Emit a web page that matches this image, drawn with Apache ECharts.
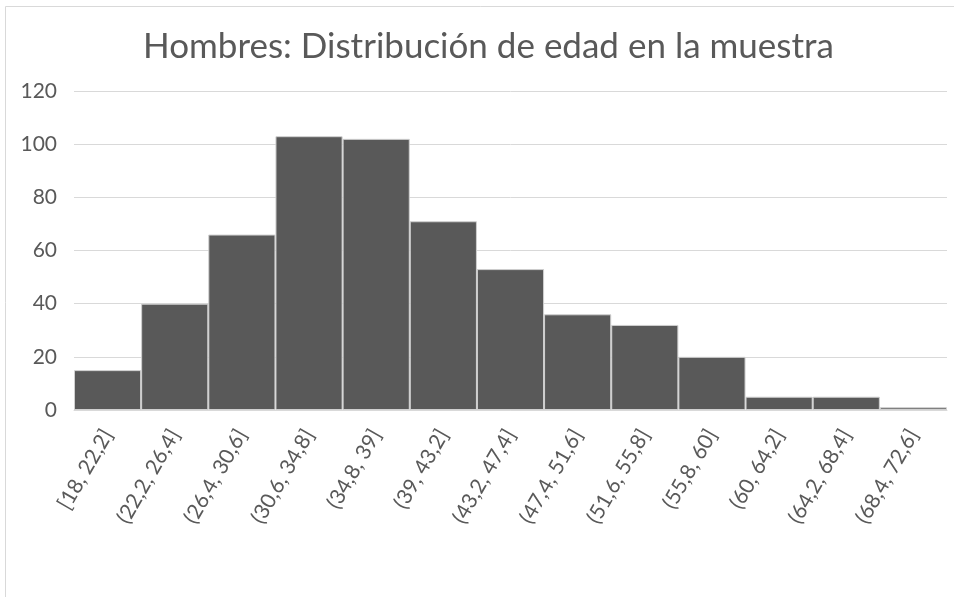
<html lang="es">
<head>
  <meta charset="UTF-8">
  <title>Distribución de edad</title>
  <style>
    *{ margin: 0; padding: 0; }
    body{ background: #ffffff; }
    #main{ width: 954px; height: 597px; }
  </style>
</head>
<body>
  <div id="main"></div>
  <script src="https://cdn.jsdelivr.net/npm/echarts@6/dist/echarts.min.js"></script>
  <script type="text/javascript">
  // intervalos de edad
  var categorias = ['[18, 22,2]', '(22,2, 26,4]', '(26,4, 30,6]', '(30,6, 34,8]', '(34,8, 39]',
    '(39, 43,2]', '(43,2, 47,4]', '(47,4, 51,6]', '(51,6, 55,8]', '(55,8, 60]',
    '(60, 64,2]', '(64,2, 68,4]', '(68,4, 72,6]'];
  // frecuencias
  var frecuencias = [15, 40, 66, 103, 102, 71, 53, 36, 32, 20, 5, 5, 1];
  var titulo = 'Hombres: Distribución de edad en la muestra';

  var myChart = echarts.init(document.getElementById('main'));
  var gris = '#595959';
  var fuente = 'Lato';
  var option = {
    animation: false,
    textStyle: { fontFamily: fuente },
    graphic: [{
      type: 'rect',
      shape: { x: 5.5, y: 6.5, width: 980, height: 600 },
      style: { fill: 'none', stroke: '#d9d9d9', lineWidth: 1 }
    }],
    title: {
      text: titulo,
      left: 138,
      top: 24,
      textStyle: { fontFamily: fuente, fontSize: 35, fontWeight: 'normal', color: gris }
    },
    grid: { left: 74, right: 7, top: 91, bottom: 187 },
    xAxis: {
      type: 'category',
      data: categorias,
      axisTick: { show: false },
      axisLine: { lineStyle: { color: '#d9d9d9', width: 1 } },
      axisLabel: { rotate: 60, fontFamily: fuente, fontSize: 21, color: gris, margin: 21, interval: 0 }
    },
    yAxis: {
      type: 'value',
      min: 0,
      max: 120,
      interval: 20,
      axisLine: { show: false },
      axisTick: { show: false },
      splitLine: { lineStyle: { color: '#d9d9d9', width: 1 } },
      axisLabel: { fontFamily: fuente, fontSize: 21, color: gris, margin: 17 }
    },
    series: [{
      type: 'bar',
      data: frecuencias,
      barCategoryGap: 0,
      itemStyle: { color: gris, borderColor: '#d0d0d0', borderWidth: 1 }
    }]
  };
  myChart.setOption(option);
  </script>
</body>
</html>
